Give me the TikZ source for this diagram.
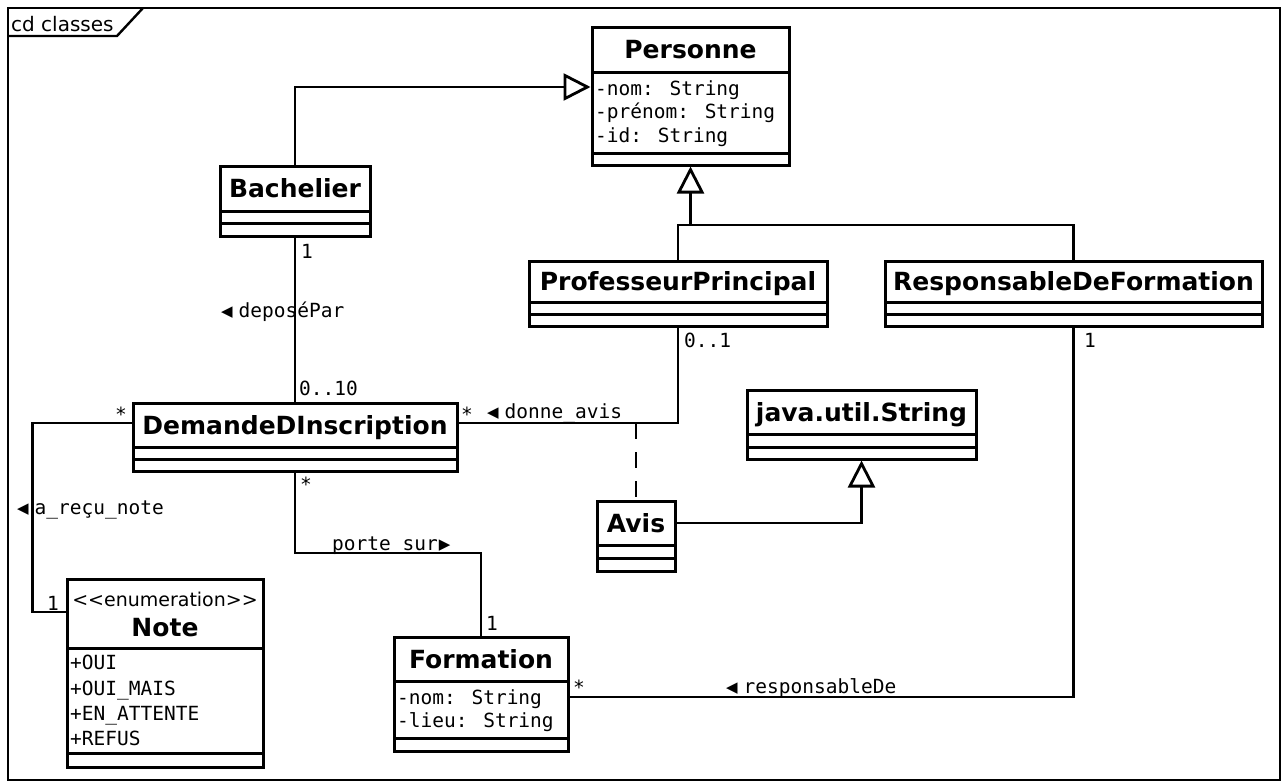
\documentclass[tikz,border=0pt]{standalone}
\usepackage{fontspec}
\setmainfont{DejaVu Sans}
\newfontfamily\monof{DejaVu Sans Mono}
\usetikzlibrary{arrows.meta}

\tikzset{
  cls/.style={draw, line width=3pt, fill=white, inner sep=0pt},
  sepline/.style={line width=3pt},
  ctitle/.style={font=\fontsize{25}{25}\selectfont\bfseries, anchor=base, inner sep=0pt},
  stereo/.style={font=\fontsize{19}{19}\selectfont, anchor=base, inner sep=0pt},
  attr/.style={font=\fontsize{19.5}{19.5}\selectfont\monof, anchor=base west, inner sep=0pt},
  lbl/.style={font=\fontsize{19.5}{19.5}\selectfont\monof, anchor=base west, inner sep=0pt},
  conn/.style={line width=2.8pt},
  gen/.style={line width=2.8pt, -{Triangle[open, length=27pt, width=27pt]}},
  assoc/.style={line width=2.8pt, dash pattern=on 16pt off 13pt},
}
\newcommand\ltri{\raisebox{0.5pt}{\fontsize{15}{15}\selectfont\rmfamily ◀}\hspace{6pt}}
\newcommand\rtri{\hspace{1pt}\raisebox{0.5pt}{\fontsize{15}{15}\selectfont\rmfamily ▶}}

\begin{document}
\begin{tikzpicture}[x=1pt, y=-1pt]
  \fill[white] (0,0) rectangle (1287,782);
  \useasboundingbox (0,0) rectangle (1287,782);

  % diagram frame and its name tab
  \draw[line width=2.4pt] (8,8) rectangle (1280,780);
  \draw[line width=2.4pt] (143,8) -- (117,36) -- (8,36);
  \node[font=\fontsize{20}{20}\selectfont, anchor=base west, inner sep=0pt] (frameLbl) at (11,31) {cd classes};

  % ---- classes ----
  % Personne
  \node[cls, minimum width=197pt, minimum height=138pt] (pers) at (690.5,96) {};
  \draw[sepline] (592,72) -- (789,72);
  \draw[sepline] (592,153) -- (789,153);
  \node[ctitle] (persT) at (690.5,58.5) {Personne};
  \node[attr] (persA1) at (595,95) {-nom: String};
  \node[attr] (persA2) at (595,118) {-prénom: String};
  \node[attr] (persA3) at (595,142) {-id: String};

  % Bachelier
  \node[cls, minimum width=150pt, minimum height=70pt] (bach) at (295,201) {};
  \draw[sepline] (220,211) -- (370,211);
  \draw[sepline] (220,223) -- (370,223);
  \node[ctitle] (bachT) at (295,197.5) {Bachelier};

  % ProfesseurPrincipal
  \node[cls, minimum width=298pt, minimum height=65pt] (pp) at (678,293.5) {};
  \draw[sepline] (529,302) -- (827,302);
  \draw[sepline] (529,314) -- (827,314);
  \node[ctitle] (ppT) at (678,290.5) {ProfesseurPrincipal};

  % ResponsableDeFormation
  \node[cls, minimum width=377pt, minimum height=65pt] (rdf) at (1073.5,293.5) {};
  \draw[sepline] (885,302) -- (1262,302);
  \draw[sepline] (885,314) -- (1262,314);
  \node[ctitle] (rdfT) at (1073.5,290.5) {ResponsableDeFormation};

  % DemandeDInscription
  \node[cls, minimum width=324pt, minimum height=68pt] (dem) at (295,437) {};
  \draw[sepline] (133,447) -- (457,447);
  \draw[sepline] (133,459) -- (457,459);
  \node[ctitle] (demT) at (295,434) {DemandeDInscription};

  % java.util.String
  \node[cls, minimum width=229pt, minimum height=69pt] (jav) at (861.5,424.5) {};
  \draw[sepline] (747,434) -- (976,434);
  \draw[sepline] (747,447) -- (976,447);
  \node[ctitle] (javT) at (861.5,421) {java.util.String};

  % Avis
  \node[cls, minimum width=78pt, minimum height=70pt] (avis) at (636,536) {};
  \draw[sepline] (597,545) -- (675,545);
  \draw[sepline] (597,558) -- (675,558);
  \node[ctitle] (avisT) at (636,532) {Avis};

  % Note (enumeration)
  \node[cls, minimum width=196pt, minimum height=188pt] (note) at (165,673) {};
  \draw[sepline] (67,648) -- (263,648);
  \draw[sepline] (67,753) -- (263,753);
  \node[stereo] (noteS) at (165,606) {<\kern0pt<enumeration>\kern0pt>};
  \node[ctitle] (noteT) at (165,636) {Note};
  \node[attr] (noteA1) at (70,669) {+OUI};
  \node[attr] (noteA2) at (70,695) {+OUI\_MAIS};
  \node[attr] (noteA3) at (70,720) {+EN\_ATTENTE};
  \node[attr] (noteA4) at (70,745) {+REFUS};

  % Formation
  \node[cls, minimum width=174pt, minimum height=114pt] (form) at (481,694) {};
  \draw[sepline] (394,681) -- (568,681);
  \draw[sepline] (394,738) -- (568,738);
  \node[ctitle] (formT) at (481,668) {Formation};
  \node[attr] (formA1) at (397,704) {-nom: String};
  \node[attr] (formA2) at (397,727) {-lieu: String};

  % ---- generalizations ----
  \draw[gen] (bach.north) |- (pers.west |- 0,87);
  \coordinate (genJ) at (pers.south |- 0,225);
  \draw[conn] (pp.north) |- (genJ) -| (rdf.north);
  \draw[gen] (genJ) -- (pers.south);
  \coordinate (avisE) at (avis.east |- 0,523);
  \draw[gen] (avisE) -| (jav.south);

  % ---- associations ----
  \draw[conn] (bach.south) -- (dem.north);
  \coordinate (demE) at (dem.east |- 0,423);
  \coordinate (demW) at (dem.west |- 0,423);
  \draw[conn] (demE) -| (pp.south);
  \draw[assoc] (avis.north |- demE) -- (avis.north);
  \coordinate (noteW) at (note.west |- 0,612);
  \draw[conn] (demW) -- ++(-99,0) |- (noteW);
  \coordinate (porteJ) at (form.north |- 0,553);
  \draw[conn] (dem.south) |- (porteJ) -- (form.north);
  \coordinate (formE) at (form.east |- 0,697);
  \draw[conn] (formE) -| (rdf.south);

  % ---- role names and multiplicities ----
  \node[lbl] (mBach) at (301,258) {1};
  \node[lbl] (lDepose) at (221,317) {\ltri deposéPar};
  \node[lbl] (mDemTop) at (299,395) {0..10};
  \node[lbl] (mDemL) at (115,421) {*};
  \node[lbl] (mDemR) at (461,421) {*};
  \node[lbl] (lDonne) at (487,418) {\ltri donne\_avis};
  \node[lbl] (mPP) at (684,347) {0..1};
  \node[lbl] (mDemB) at (300,491) {*};
  \node[lbl] (lRecu) at (17,514) {\ltri a\_reçu\_note};
  \node[lbl] (mNote) at (47,610) {1};
  \node[lbl] (lPorte) at (332,550) {porte sur\rtri};
  \node[lbl] (mForm) at (486,630) {1};
  \node[lbl] (mFormR) at (573,694) {*};
  \node[lbl] (lResp) at (726,693) {\ltri responsableDe};
  \node[lbl] (mRdf) at (1084,347) {1};
\end{tikzpicture}
\end{document}
